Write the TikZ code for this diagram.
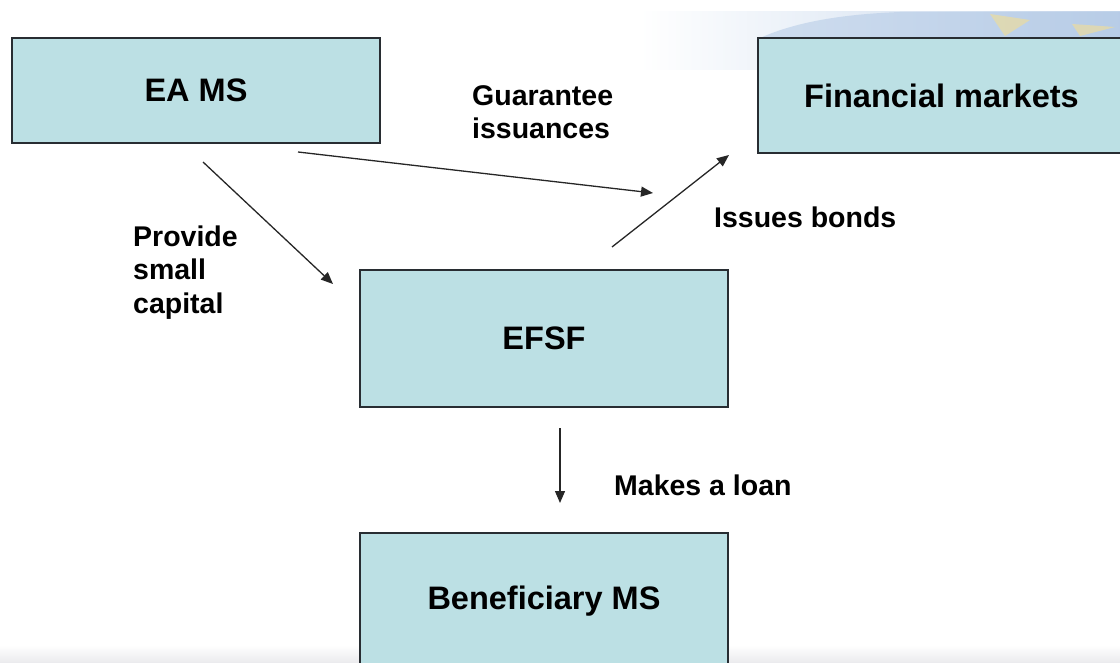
\documentclass[tikz,border=0pt]{standalone}
\usepackage{fontspec}
\setmainfont{Liberation Sans}
\usetikzlibrary{arrows.meta}
\definecolor{boxfill}{RGB}{188,224,228}
\definecolor{boxline}{RGB}{40,45,50}
\definecolor{decoblue}{RGB}{120,160,210}
\definecolor{decogold}{RGB}{235,220,160}
\begin{document}
\begin{tikzpicture}[x=1pt,y=-1pt,
  box/.style={draw=boxline,fill=boxfill,line width=1.1pt,inner sep=0pt,
    font=\fontsize{32.5}{38}\selectfont\bfseries},
  lbl/.style={inner sep=0pt,font=\fontsize{28.5}{33.5}\selectfont\bfseries,align=left},
  arr/.style={line width=1.3pt,draw=black!85,-{Triangle[length=12pt,width=10pt]}}]
\useasboundingbox (0,0) rectangle (1120,663);
\begin{scope}
\clip (0,0) rectangle (1120,663);
% decorative background
\shade[left color=white,right color=decoblue!45] (640,12) -- (1120,12) -- (1120,70) -- (640,70) -- cycle;
\fill[decoblue!60,opacity=0.5] (760,38) .. controls (800,20) and (850,14) .. (900,12) -- (1120,12) -- (1120,38) -- cycle;
\fill[decogold,opacity=0.7] (990,14) -- (1030,20) -- (1005,36) -- cycle;
\fill[decogold,opacity=0.7] (1072,24) -- (1115,27) -- (1080,36) -- cycle;
\shade[top color=white,bottom color=blue!8!gray!15] (0,645) rectangle (1120,663);
% boxes
\node[box,minimum width=368pt,minimum height=105pt] (eams) at (196,90.5) {EA MS};
\node[box,minimum width=367pt,minimum height=115pt] (fm) at (941.5,95.5) {Financial markets};
\node[box,minimum width=368pt,minimum height=137pt] (efsf) at (544,338.5) {EFSF};
\node[box,minimum width=368pt,minimum height=137pt] (ben) at (544,601.5) {};
\node[font=\fontsize{32.5}{38}\selectfont\bfseries,inner sep=0pt] (bentext) at (ben.center) {Beneficiary MS};
\end{scope}
% connector end points
\coordinate (a1s) at (203,162);
\coordinate (a1e) at (333,284);
\coordinate (a2s) at (298,152);
\coordinate (a2e) at (653,193);
\coordinate (a3s) at (612,247);
\coordinate (a3e) at (729,155);
\coordinate (a4s) at (560,428);
\coordinate (a4e) at (560,503);
\draw[arr] (a1s) -- (a1e);
\draw[arr] (a2s) -- (a2e);
\draw[arr] (a3s) -- (a3e);
\draw[arr] (a4s) -- (a4e);
% labels
\node[lbl,anchor=base west] (l1) at (133,313) {Provide\\small\\capital};
\node[lbl,anchor=base west] (l2) at (472,139) {Guarantee\\issuances};
\node[lbl,anchor=base west] (l3) at (714,228) {Issues bonds};
\node[lbl,anchor=base west] (l4) at (614,495) {Makes a loan};
\end{tikzpicture}
\end{document}
